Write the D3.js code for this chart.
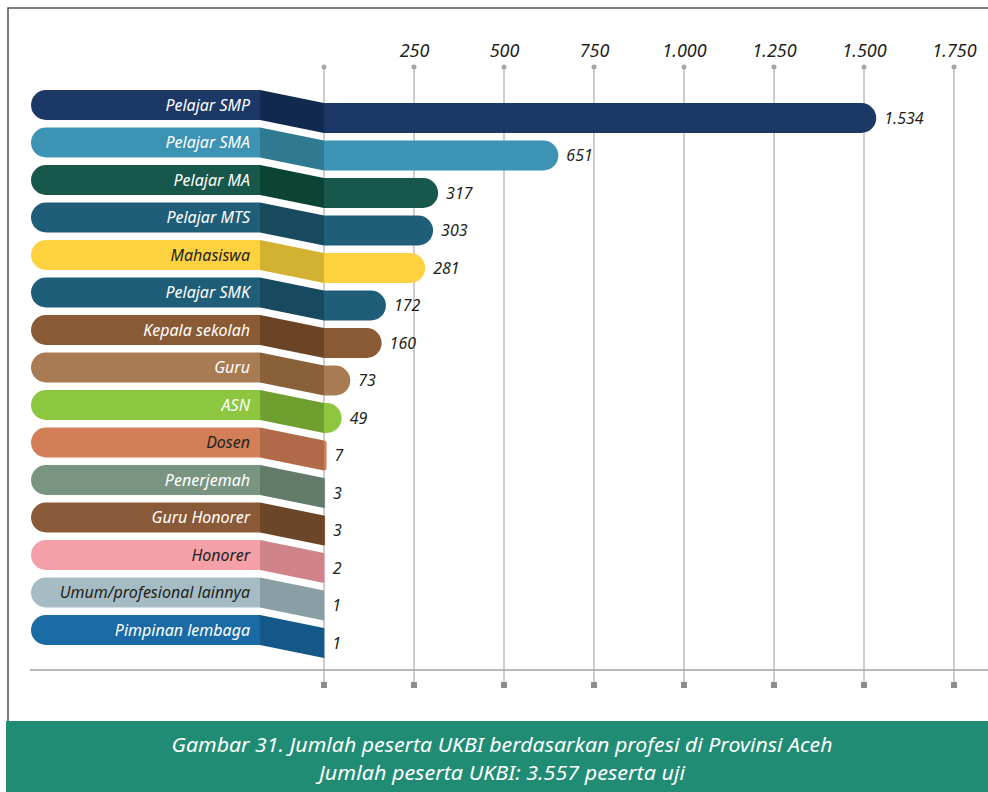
<!DOCTYPE html>
<html>
<head>
<meta charset="utf-8">
<script src="https://cdn.jsdelivr.net/npm/d3@7"></script>
<style>
  body { margin: 0; background: #fff; }
  svg { display: block; font-family: "Noto Sans", "Open Sans", sans-serif; }
</style>
</head>
<body>
<svg id="chart" width="988" height="792"></svg>
<script>
// data
const categories = [
  "Pelajar SMP", "Pelajar SMA", "Pelajar MA", "Pelajar MTS", "Mahasiswa",
  "Pelajar SMK", "Kepala sekolah", "Guru", "ASN", "Dosen",
  "Penerjemah", "Guru Honorer", "Honorer", "Umum/profesional lainnya", "Pimpinan lembaga"
];
const values = [1534, 651, 317, 303, 281, 172, 160, 73, 49, 7, 3, 3, 2, 1, 1];
const tickValues = [0, 250, 500, 750, 1000, 1250, 1500, 1750];
const captionLines = [
  "Gambar 31. Jumlah peserta UKBI berdasarkan profesi di Provinsi Aceh",
  "Jumlah peserta UKBI: 3.557 peserta uji"
];

// colours per row: pill/bar, connector, label text
const fillColors = ["#1c3867", "#3d93b3", "#18574b", "#1f5e78", "#fdd23e", "#1f5e78", "#8a5a35",
  "#a87b52", "#8dc63f", "#d27f57", "#7a9482", "#8a5a38", "#f5a0a8", "#a6bcc5", "#1a6aa5"];
const connColors = ["#12294f", "#2e7a91", "#0b4335", "#184a5e", "#d3b232", "#174a5e", "#6b4425",
  "#8a6038", "#6fa02f", "#b06a48", "#637c6a", "#6b4628", "#cf838b", "#8a9ea5", "#135888"];
const labelColors = ["#fff", "#fff", "#fff", "#fff", "#231f20", "#fff", "#fff",
  "#fff", "#fff", "#231f20", "#fff", "#fff", "#231f20", "#231f20", "#fff"];

const svg = d3.select("#chart");
const width = +svg.attr("width"), height = +svg.attr("height");

const locale = d3.formatLocale({ decimal: ",", thousands: ".", grouping: [3], currency: ["", ""] });
const fmt = locale.format(",d");

const pillLeft = 31, pillRight = 260, shift = 13, r = 15;

const x = d3.scaleLinear().domain([0, 1750]).range([324, 954]);
const y = d3.scaleBand().domain(categories).range([90, 645]).paddingInner(0.2).paddingOuter(0);
const bh = y.bandwidth();

// frame
svg.append("path")
  .attr("d", `M${width},8 H8 V722`)
  .attr("fill", "none")
  .attr("stroke", "#555")
  .attr("stroke-width", 1.5);

// grid
const grid = svg.append("g");
tickValues.forEach(t => {
  grid.append("line")
    .attr("x1", x(t)).attr("x2", x(t))
    .attr("y1", 67).attr("y2", 685)
    .attr("stroke", "#bcbcbc")
    .attr("stroke-width", 1.5);
  grid.append("circle")
    .attr("cx", x(t)).attr("cy", 67).attr("r", 2.5)
    .attr("fill", "#a6a6a6");
  grid.append("rect")
    .attr("x", x(t) - 3).attr("y", 682).attr("width", 6).attr("height", 6)
    .attr("fill", "#8c8c8c");
});

// top axis labels
const axis = d3.axisTop(x)
  .tickValues(tickValues)
  .tickSize(0)
  .tickPadding(0)
  .tickFormat(d => d === 0 ? "" : fmt(d));
svg.append("g")
  .attr("transform", "translate(0,57)")
  .call(axis)
  .call(g => g.select(".domain").remove())
  .call(g => g.selectAll("text")
    .attr("font-size", 18)
    .attr("font-style", "italic")
    .attr("font-family", "'Noto Sans', sans-serif")
    .attr("fill", "#231f20"));

// baseline
svg.append("line")
  .attr("x1", 30).attr("x2", width)
  .attr("y1", 670).attr("y2", 670)
  .attr("stroke", "#a0a0a0")
  .attr("stroke-width", 1.5);

// rows
const rows = svg.append("g");
categories.forEach((c, i) => {
  const y0 = y(c);
  const v = values[i];

  // label pill
  rows.append("path")
    .attr("d", `M${pillRight},${y0} H${pillLeft + r} A${r},${r} 0 0 0 ${pillLeft + r},${y0 + bh} H${pillRight} Z`)
    .attr("fill", fillColors[i]);

  // connector
  rows.append("path")
    .attr("d", `M${pillRight},${y0} L${x(0)},${y0 + shift} V${y0 + shift + bh} L${pillRight},${y0 + bh} Z`)
    .attr("fill", connColors[i]);

  // bar with rounded end
  const w = x(v) - x(0);
  const rr = Math.min(r, w);
  const by = y0 + shift;
  rows.append("path")
    .attr("d", `M${x(0)},${by} H${x(v) - rr} A${rr},${rr} 0 0 1 ${x(v)},${by + rr} V${by + bh - rr} A${rr},${rr} 0 0 1 ${x(v) - rr},${by + bh} H${x(0)} Z`)
    .attr("fill", fillColors[i]);

  rows.append("text")
    .attr("x", 250)
    .attr("y", y0 + bh / 2)
    .attr("dy", "0.35em")
    .attr("text-anchor", "end")
    .attr("font-size", 16)
    .attr("font-style", "italic")
    .attr("fill", labelColors[i])
    .text(c);

  rows.append("text")
    .attr("x", x(v) + 8)
    .attr("y", by + bh / 2)
    .attr("dy", "0.35em")
    .attr("font-size", 16)
    .attr("font-style", "italic")
    .attr("fill", "#231f20")
    .text(fmt(v));
});

// caption band
svg.append("rect")
  .attr("x", 6).attr("y", 721)
  .attr("width", width - 6).attr("height", height - 721)
  .attr("fill", "#218c74");

const capLens = [661, 366];
captionLines.forEach((t, i) => {
  svg.append("text")
    .attr("x", 502)
    .attr("y", 745 + i * 28)
    .attr("dy", "0.35em")
    .attr("text-anchor", "middle")
    .attr("font-size", 20)
    .attr("font-style", "italic")
    .attr("fill", "#fff")
    .attr("textLength", capLens[i])
    .attr("lengthAdjust", "spacingAndGlyphs")
    .text(t);
});
</script>
</body>
</html>
